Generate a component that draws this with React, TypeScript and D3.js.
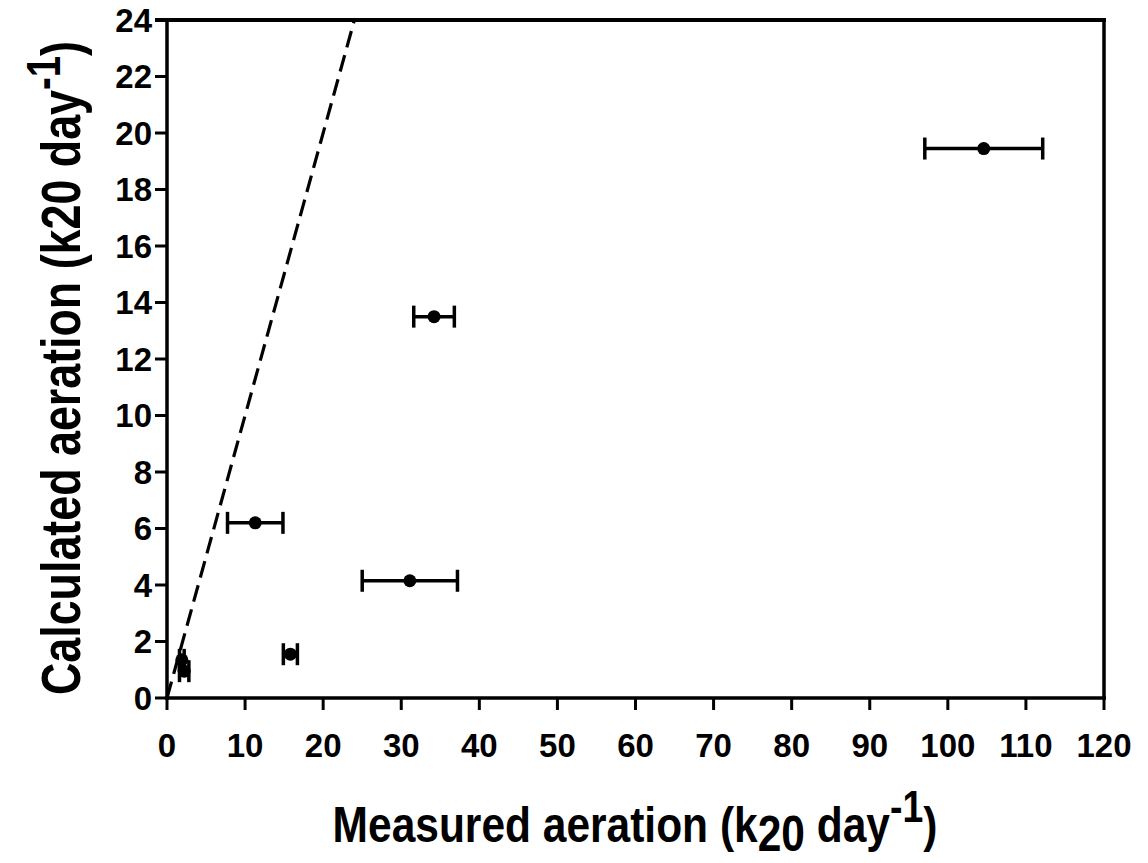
import React from "react";
import * as d3 from "d3";

const measured = [1.9, 2.2, 15.8, 11.3, 31.1, 34.2, 104.6];
const calculated = [1.35, 0.95, 1.55, 6.2, 4.15, 13.5, 19.45];
const measuredErr = [0.3, 0.6, 0.9, 3.55, 6.1, 2.6, 7.55];
const xTicks = [0, 10, 20, 30, 40, 50, 60, 70, 80, 90, 100, 110, 120];
const yTicks = [0, 2, 4, 6, 8, 10, 12, 14, 16, 18, 20, 22, 24];
const oneToOne = [0, 24];

const W = 1148;
const H = 863;
const left = 167;
const right = 1104;
const top = 20;
const bottom = 698;

export default function App() {
  const x = d3.scaleLinear().domain([0, 120]).range([left, right]);
  const y = d3.scaleLinear().domain([0, 24]).range([bottom, top]);
  const font = "'Liberation Sans', Arial, sans-serif";
  const line = d3
    .line<number>()
    .x((d) => x(d))
    .y((d) => y(d));
  const points = measured.map((m, i) => ({ m, c: calculated[i], e: measuredErr[i] }));

  return (
    <svg
      width={W}
      height={H}
      style={{ position: "absolute", left: 0, top: 0, background: "#fff" }}
      fontFamily={font}
    >
      <rect x={0} y={0} width={W} height={H} fill="#fff" />
      {/* frame */}
      <line x1={left - 12} x2={right + 2} y1={top} y2={top} stroke="#000" strokeWidth={4} />
      <line x1={right} x2={right} y1={top} y2={bottom} stroke="#000" strokeWidth={3.5} />
      {/* axes */}
      <line x1={left} x2={left} y1={top} y2={bottom + 2} stroke="#000" strokeWidth={3.5} />
      <line x1={left - 2} x2={right + 2} y1={bottom} y2={bottom} stroke="#000" strokeWidth={3.5} />
      {yTicks.map((t) => (
        <g key={"y" + t}>
          <line x1={left - 12} x2={left} y1={y(t)} y2={y(t)} stroke="#000" strokeWidth={3} />
          <text x={152} y={y(t)} dy="0.36em" textAnchor="end" fontSize={33} fontWeight="bold">
            {t}
          </text>
        </g>
      ))}
      {xTicks.map((t) => (
        <g key={"x" + t}>
          <line x1={x(t)} x2={x(t)} y1={bottom} y2={bottom + 12} stroke="#000" strokeWidth={3} />
          <text x={x(t)} y={757} textAnchor="middle" fontSize={33} fontWeight="bold">
            {t}
          </text>
        </g>
      ))}
      {/* 1:1 line */}
      <path
        d={line(oneToOne) || ""}
        fill="none"
        stroke="#000"
        strokeWidth={3.2}
        strokeDasharray="17,8"
      />
      {/* points with error bars */}
      {points.map((p, i) => (
        <g key={"p" + i}>
          <line x1={x(p.m - p.e)} x2={x(p.m + p.e)} y1={y(p.c)} y2={y(p.c)} stroke="#000" strokeWidth={3.5} />
          <line x1={x(p.m - p.e)} x2={x(p.m - p.e)} y1={y(p.c) - 11} y2={y(p.c) + 11} stroke="#000" strokeWidth={3.5} />
          <line x1={x(p.m + p.e)} x2={x(p.m + p.e)} y1={y(p.c) - 11} y2={y(p.c) + 11} stroke="#000" strokeWidth={3.5} />
          <circle cx={x(p.m)} cy={y(p.c)} r={6.5} fill="#000" />
        </g>
      ))}
      {/* x title */}
      <g transform="translate(635, 842) scale(0.85, 1)">
        <text x={0} y={0} textAnchor="middle" fontSize={50} fontWeight="bold">
          Measured aeration (k
          <tspan dy={9}>20</tspan>
          <tspan dy={-9}> day</tspan>
          <tspan dy={-20} fontSize={44}>-1</tspan>
          <tspan dy={20}>)</tspan>
        </text>
      </g>
      {/* y title */}
      <g transform="translate(80, 368) rotate(-90) scale(0.8, 1)">
        <text x={0} y={0} textAnchor="middle" fontSize={56} fontWeight="bold">
          Calculated aeration (k20 day
          <tspan dy={-20} fontSize={48}>-1</tspan>
          <tspan dy={20}>)</tspan>
        </text>
      </g>
    </svg>
  );
}
